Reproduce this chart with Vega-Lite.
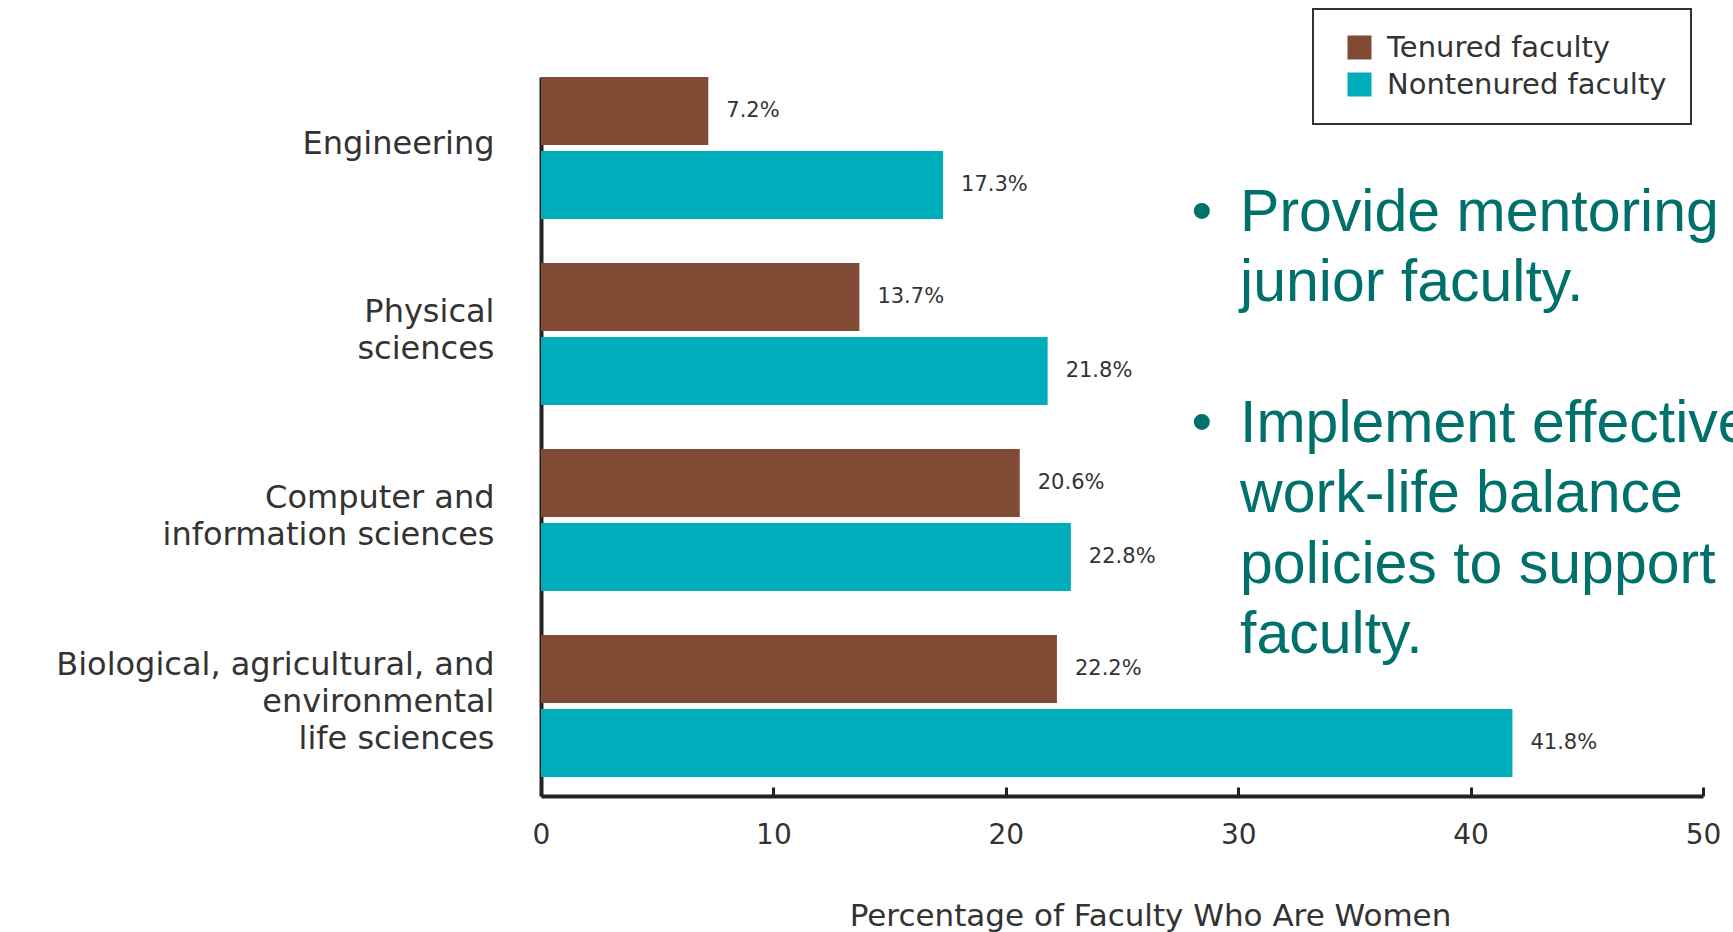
{
  "$schema": "https://vega.github.io/schema/vega-lite/v6.json",
  "width": 1162,
  "height": 719,
  "autosize": {"type": "none"},
  "padding": {"left": 541, "top": 77, "right": 30, "bottom": 136},
  "background": "white",
  "config": {
    "view": {"stroke": null},
    "font": "DejaVu Sans",
    "legend": {"strokeWidth": 2}
  },
  "layer": [
    {
      "data": {
        "values": [
          {"field": "Engineering", "group": "Tenured faculty", "pct": 7.2},
          {"field": "Engineering", "group": "Nontenured faculty", "pct": 17.3},
          {"field": "Physical sciences", "group": "Tenured faculty", "pct": 13.7},
          {"field": "Physical sciences", "group": "Nontenured faculty", "pct": 21.8},
          {"field": "Computer and information sciences", "group": "Tenured faculty", "pct": 20.6},
          {"field": "Computer and information sciences", "group": "Nontenured faculty", "pct": 22.8},
          {"field": "Biological, agricultural, and environmental life sciences", "group": "Tenured faculty", "pct": 22.2},
          {"field": "Biological, agricultural, and environmental life sciences", "group": "Nontenured faculty", "pct": 41.8}
        ]
      },
      "transform": [
        {"calculate": "format(datum.pct, '.1f') + '%'", "as": "label"}
      ],
      "encoding": {
        "y": {
          "field": "field",
          "type": "nominal",
          "sort": [
            "Engineering",
            "Physical sciences",
            "Computer and information sciences",
            "Biological, agricultural, and environmental life sciences"
          ],
          "scale": {"paddingInner": 0.2366, "paddingOuter": 0.051, "align": 0},
          "axis": {
            "title": null,
            "ticks": false,
            "domainColor": "#222222",
            "domainWidth": 4,
            "labelFontSize": 32,
            "labelColor": "#333333",
            "labelPadding": 47,
            "labelLineHeight": 37,
            "labelLimit": 700,
            "labelOffset": {
              "condition": [
                {"test": "datum.value == 'Engineering'", "value": -4},
                {"test": "datum.value == 'Biological, agricultural, and environmental life sciences'", "value": -41}
              ],
              "value": -22
            },
            "labelExpr": "datum.value == 'Physical sciences' ? ['Physical', 'sciences'] : datum.value == 'Computer and information sciences' ? ['Computer and', 'information sciences'] : datum.value == 'Biological, agricultural, and environmental life sciences' ? ['Biological, agricultural, and', 'environmental', 'life sciences'] : datum.value"
          }
        },
        "yOffset": {
          "field": "group",
          "type": "nominal",
          "sort": ["Tenured faculty", "Nontenured faculty"],
          "scale": {"paddingInner": 0.081, "paddingOuter": 0}
        },
        "x": {
          "field": "pct",
          "type": "quantitative",
          "scale": {"domain": [0, 50], "nice": false},
          "axis": {
            "title": "Percentage of Faculty Who Are Women",
            "values": [0, 10, 20, 30, 40, 50],
            "format": "d",
            "grid": false,
            "domainColor": "#222222",
            "domainWidth": 4,
            "tickColor": "#222222",
            "tickWidth": 3,
            "tickSize": -9,
            "labelFlush": false,
            "labelFontSize": 28,
            "labelColor": "#333333",
            "labelPadding": 34,
            "titleFontSize": 31,
            "titleFontWeight": "normal",
            "titleColor": "#333333",
            "titleX": 609,
            "titleY": 129,
            "titleAlign": "center",
            "titleBaseline": "alphabetic"
          }
        }
      },
      "layer": [
        {
          "mark": {"type": "bar"},
          "encoding": {
            "color": {
              "field": "group",
              "type": "nominal",
              "scale": {
                "domain": ["Tenured faculty", "Nontenured faculty"],
                "range": ["#804a35", "#00adba"]
              },
              "legend": {
                "title": null,
                "orient": "none",
                "legendX": 772,
                "legendY": -68,
                "strokeColor": "#333333",
                "fillColor": "white",
                "padding": 24,
                "symbolType": "square",
                "symbolSize": 576,
                "symbolStrokeWidth": 0,
                "symbolOffset": 8,
                "labelFontSize": 29,
                "labelColor": "#333333",
                "labelOffset": 13,
                "labelLimit": 500,
                "rowPadding": 7
              }
            }
          }
        },
        {
          "mark": {
            "type": "text",
            "align": "left",
            "baseline": "middle",
            "dx": 18,
            "fontSize": 21,
            "color": "#333333"
          },
          "encoding": {"text": {"field": "label"}}
        }
      ]
    },
    {
      "data": {
        "values": [
          {"line": 0, "text": "Provide mentoring to", "bullet": "•"},
          {"line": 1, "text": "junior faculty.", "bullet": ""},
          {"line": 3, "text": "Implement effective", "bullet": "•"},
          {"line": 4, "text": "work-life balance", "bullet": ""},
          {"line": 5, "text": "policies to support", "bullet": ""},
          {"line": 6, "text": "faculty.", "bullet": ""}
        ]
      },
      "encoding": {
        "y": {
          "field": "line",
          "type": "quantitative",
          "scale": {"domain": [-2.18, 8.03], "reverse": true, "nice": false, "zero": false},
          "axis": null
        }
      },
      "layer": [
        {
          "mark": {
            "type": "text",
            "align": "left",
            "baseline": "alphabetic",
            "font": "Liberation Sans",
            "fontSize": 59,
            "color": "#00706b"
          },
          "encoding": {
            "x": {"datum": 30.08, "type": "quantitative"},
            "text": {"field": "text"}
          }
        },
        {
          "mark": {
            "type": "text",
            "align": "center",
            "baseline": "alphabetic",
            "font": "Liberation Sans",
            "fontSize": 59,
            "color": "#00706b"
          },
          "encoding": {
            "x": {"datum": 28.44, "type": "quantitative"},
            "text": {"field": "bullet"}
          }
        }
      ]
    }
  ],
  "resolve": {"scale": {"y": "independent"}}
}
